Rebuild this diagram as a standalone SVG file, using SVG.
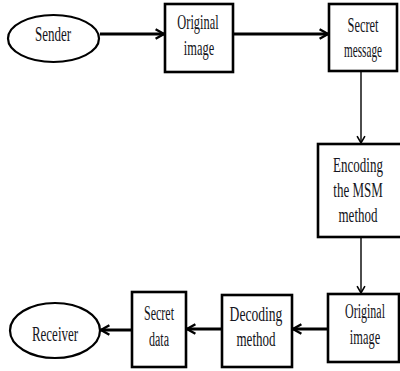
<svg xmlns="http://www.w3.org/2000/svg" width="400" height="371" viewBox="0 0 400 371">
  <style>
    .box { fill: #fff; stroke: #000; stroke-width: 2.6; }
    .oval { fill: #fff; stroke: #000; stroke-width: 2.2; }
    .lbl { font-family: "Liberation Serif", "Times New Roman", serif; font-size: 20px; fill: #141420; text-anchor: middle; }
    .thick { stroke: #000; stroke-width: 3; fill: none; marker-end: url(#headThick); }
    .thin { stroke: #000; stroke-width: 1.4; fill: none; marker-end: url(#headThin); }
  </style>
  <defs>
    <marker id="headThick" viewBox="0 0 10 10" refX="8" refY="5" markerWidth="4" markerHeight="4" markerUnits="strokeWidth" orient="auto">
      <path d="M1,1 L8,5 L1,9" fill="none" stroke="#000" stroke-width="2"/>
    </marker>
    <marker id="headThin" viewBox="0 0 10 10" refX="8" refY="5" markerWidth="7" markerHeight="7" markerUnits="strokeWidth" orient="auto">
      <path d="M1,1 L8,5 L1,9" fill="none" stroke="#000" stroke-width="1.6"/>
    </marker>
  </defs>
  <rect width="400" height="371" fill="#fff"/>

  <g id="connectors">
    <line class="thick" x1="100" y1="34" x2="164" y2="34"/>
    <line class="thick" x1="233" y1="34" x2="328" y2="34"/>
    <line class="thin" x1="361" y1="72" x2="361" y2="143"/>
    <line class="thin" x1="361" y1="238" x2="361" y2="293"/>
    <line class="thick" x1="328" y1="329" x2="293" y2="329"/>
    <line class="thick" x1="222" y1="329" x2="187" y2="329"/>
    <line class="thick" x1="132" y1="330" x2="101" y2="330"/>
  </g>

  <!-- labels are set in a narrow serif: scaled to 65% width -->
  <g id="sender">
    <ellipse class="oval" cx="53.5" cy="38.5" rx="45.5" ry="23.5"/>
    <text class="lbl" transform="translate(53,41) scale(0.65,1)">Sender</text>
  </g>

  <g id="original-image-top">
    <rect class="box" x="165" y="4" width="68" height="68"/>
    <text class="lbl" transform="translate(198,29) scale(0.62,1)">Original</text>
    <text class="lbl" transform="translate(199,55) scale(0.62,1)">image</text>
  </g>

  <g id="secret-message">
    <rect class="box" x="329" y="4" width="68" height="67"/>
    <text class="lbl" transform="translate(363,32) scale(0.62,1)">Secret</text>
    <text class="lbl" transform="translate(363,57) scale(0.56,1)">message</text>
  </g>

  <g id="encoding">
    <rect class="box" x="318" y="144" width="88" height="93"/>
    <text class="lbl" transform="translate(358,172) scale(0.65,1)">Encoding</text>
    <text class="lbl" transform="translate(358,197) scale(0.65,1)">the MSM</text>
    <text class="lbl" transform="translate(358,222) scale(0.65,1)">method</text>
  </g>

  <g id="original-image-bottom">
    <rect class="box" x="328" y="294" width="71" height="68"/>
    <text class="lbl" transform="translate(365,318) scale(0.6,1)">Original</text>
    <text class="lbl" transform="translate(365,344) scale(0.62,1)">image</text>
  </g>

  <g id="decoding">
    <rect class="box" x="222" y="295" width="70" height="72"/>
    <text class="lbl" transform="translate(256,321) scale(0.68,1)">Decoding</text>
    <text class="lbl" transform="translate(256,346) scale(0.65,1)">method</text>
  </g>

  <g id="secret-data">
    <rect class="box" x="132" y="292" width="54" height="75"/>
    <text class="lbl" transform="translate(159,320) scale(0.6,1)">Secret</text>
    <text class="lbl" transform="translate(159,346) scale(0.6,1)">data</text>
  </g>

  <g id="receiver">
    <ellipse class="oval" cx="55" cy="330.5" rx="45" ry="27.5"/>
    <text class="lbl" transform="translate(55,341) scale(0.65,1)">Receiver</text>
  </g>
</svg>
